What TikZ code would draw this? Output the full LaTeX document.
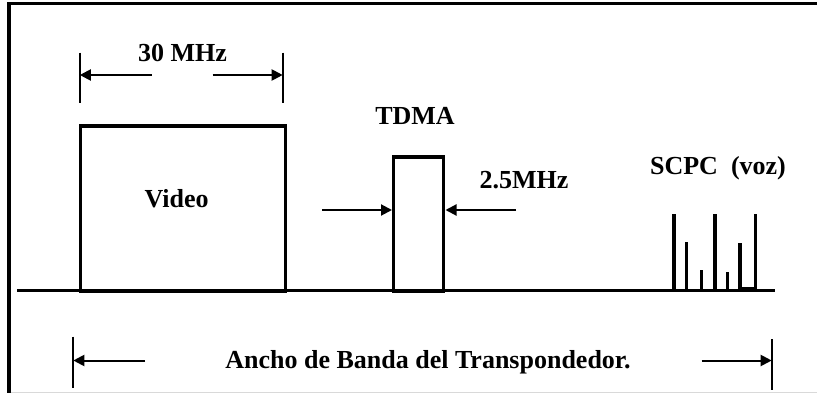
\documentclass[tikz,border=0pt]{standalone}
\usepackage{fontspec}
\setmainfont{Liberation Serif}
\usetikzlibrary{arrows.meta}
\begin{document}
\begin{tikzpicture}[x=1pt,y=-1pt,
  lbl/.style={font=\fontsize{26}{30}\selectfont\bfseries, inner sep=0pt, anchor=base},
  band/.style={draw, line width=3.5pt, inner sep=0pt, fill=none},
  thick line/.style={line width=3.8pt},
  tick/.style={line width=2pt},
  dimarrow/.style={line width=2pt, -{Triangle[length=11pt,width=11pt]}},
  spike/.style={line width=3.5pt}]
\useasboundingbox (0,0) rectangle (817,393);
% frame
\draw[line width=3.6pt] (8.7,393) -- (8.7,3.5) -- (817,3.5);
\draw[gray!30, line width=1pt] (10.5,392) -- (817,392);
% baseline
\coordinate (b0) at (17,290.5);
\coordinate (b1) at (775,290.5);
\draw[thick line] (b0) -- (b1);
% video box
\node[band, minimum width=205, minimum height=165] (video) at (183.2,208.4) {};
\node[lbl] (videot) at (176.7,207.3) {Video};
% 30 MHz dimension
\coordinate (t1a) at (79.8,52.7); \coordinate (t1b) at (79.8,103.3);
\coordinate (t2a) at (282.7,52.7); \coordinate (t2b) at (282.7,103.3);
\draw[tick] (t1a) -- (t1b);
\draw[tick] (t2a) -- (t2b);
\coordinate (a1s) at (151.7,75); \coordinate (a1e) at (79.8,75);
\coordinate (a2s) at (212.7,75); \coordinate (a2e) at (282.7,75);
\draw[dimarrow] (a1s) -- (a1e);
\draw[dimarrow] (a2s) -- (a2e);
\node[lbl] (mhz30) at (182.5,61.7) {30 MHz};
% TDMA box
\node[band, minimum width=50, minimum height=134] (tdma) at (418.7,224) {};
\node[lbl] (tdmat) at (415,125) {TDMA};
\coordinate (a3s) at (322,210); \coordinate (a3e) at (392,210);
\coordinate (a4s) at (516,210); \coordinate (a4e) at (445.5,210);
\draw[dimarrow] (a3s) -- (a3e);
\draw[dimarrow] (a4s) -- (a4e);
\node[lbl] (mhz25) at (524,188.3) {2.5MHz};
% SCPC
\node[lbl] (scpc) at (718,175) {SCPC\ \ (voz)};
\foreach \x/\y in {674/214, 686.7/241.7, 701.7/270, 715/214, 727.3/271.7, 740/243.3, 755.7/214}{
  \draw[spike] (\x,291) -- (\x,\y);
}
\fill (740,286.5) rectangle (756,291);
% bottom dimension
\coordinate (t3a) at (73.3,336.7); \coordinate (t3b) at (73.3,388);
\coordinate (t4a) at (771.7,339); \coordinate (t4b) at (771.7,390);
\draw[tick] (t3a) -- (t3b);
\draw[tick] (t4a) -- (t4b);
\coordinate (a5s) at (145,360.5); \coordinate (a5e) at (73.3,360.5);
\coordinate (a6s) at (701.7,360.5); \coordinate (a6e) at (771.7,360.5);
\draw[dimarrow] (a5s) -- (a5e);
\draw[dimarrow] (a6s) -- (a6e);
\node[lbl] (ancho) at (428,368.3) {Ancho de Banda del Transpondedor.};
\end{tikzpicture}
\end{document}
